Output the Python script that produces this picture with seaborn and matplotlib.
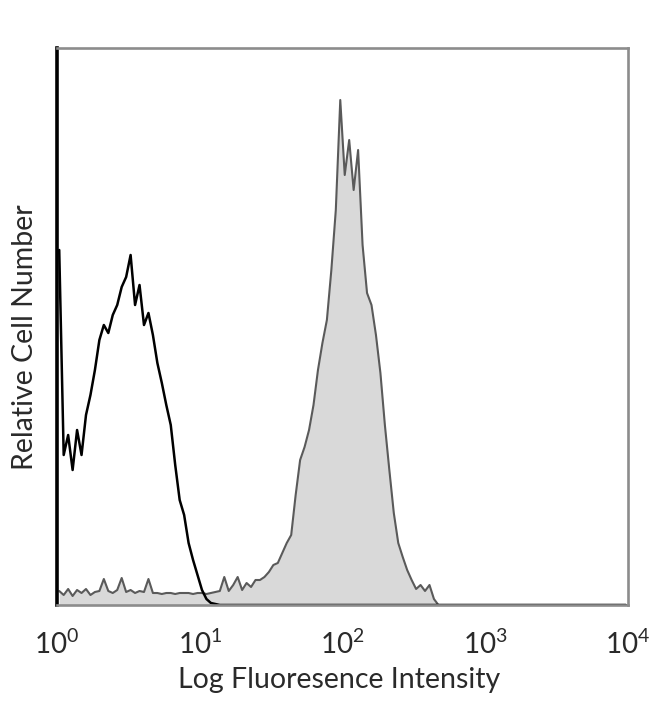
import numpy as np
import pandas as pd
import matplotlib
matplotlib.use("Agg")
import matplotlib.pyplot as plt
from matplotlib.ticker import NullLocator
import seaborn as sns

# ---- data (32 channels per decade, 4 decades) ----
channels_per_decade = 32
control_counts = [
    355, 150, 170, 135, 175, 150, 190, 210, 235, 265, 280, 272, 290, 300, 318, 328,
    350, 300, 320, 280, 292, 270, 242, 222, 200, 180, 140, 105, 90, 62, 45, 30,
    15, 6, 2, 1, 0, 0, 0, 0, 0, 0, 0, 0, 0, 0, 0, 0,
    0, 0, 0, 0, 0, 0, 0, 0, 0, 0, 0, 0, 0, 0, 0, 0,
    0, 0, 0, 0, 0, 0, 0, 0, 0, 0, 0, 0, 0, 0, 0, 0,
    0, 0, 0, 0, 0, 0, 0, 0, 0, 0, 0, 0, 0, 0, 0, 0,
    0, 0, 0, 0, 0, 0, 0, 0, 0, 0, 0, 0, 0, 0, 0, 0,
    0, 0, 0, 0, 0, 0, 0, 0, 0, 0, 0, 0, 0, 0, 0, 0,
]
stained_counts = [
    14, 10, 16, 9, 15, 12, 16, 10, 13, 14, 26, 14, 12, 15, 27, 13,
    15, 12, 14, 13, 26, 12, 12, 11, 12, 12, 11, 12, 12, 12, 11, 12,
    12, 11, 12, 13, 14, 28, 14, 20, 28, 15, 22, 18, 25, 25,
    28, 33, 40, 42, 52, 62, 70, 110, 145, 158, 175, 200, 235, 262,
    285, 335, 395, 505, 430, 465, 415, 455, 360, 312, 300, 270, 232, 180,
    135, 92, 62, 48, 35, 25, 16, 20, 14, 20, 6,
    0, 0, 0, 0, 0, 0, 0, 0, 0, 0, 0, 0, 0, 0, 0, 0,
    0, 0, 0, 0, 0, 0, 0, 0, 0, 0, 0, 0, 0, 0, 0, 0,
    0, 0, 0, 0, 0, 0, 0, 0, 0, 0, 0,
]
tick_values = [1, 10, 100, 1000, 10000]
tick_labels = [r"$\mathregular{10^{0}}$", r"$\mathregular{10^{1}}$",
               r"$\mathregular{10^{2}}$", r"$\mathregular{10^{3}}$",
               r"$\mathregular{10^{4}}$"]
x_label = "Log Fluoresence Intensity"
y_label = "Relative Cell Number"

sns.set_theme(style="white")
plt.rcParams["font.family"] = ["Lato", "DejaVu Sans"]

n = len(control_counts)
log_centers = (np.arange(n) + 0.5) / channels_per_decade
df = pd.DataFrame({
    "intensity": 10 ** log_centers,
    "control": control_counts,
    "stained": stained_counts,
})

fig = plt.figure(figsize=(6.5, 7.04), dpi=100)
ax = fig.add_axes([57 / 650, 1 - 605 / 704, (628 - 57) / 650, (605 - 48) / 704])
ax.set_xscale("log")

ax.fill_between(df["intensity"], df["stained"],
                color="#d9d9d9", linewidth=0, zorder=1)
sns.lineplot(data=df, x="intensity", y="stained",
             color="#5a5a5a", lw=1.5, ax=ax, zorder=2)
sns.lineplot(data=df, x="intensity", y="control",
             color="black", lw=1.8, ax=ax, zorder=2)

ax.set_xlim(1, 10000)
ax.set_ylim(0, 557)
ax.set_yticks([])
ax.set_xticks(tick_values, tick_labels)
ax.xaxis.set_minor_locator(NullLocator())
ax.tick_params(axis="x", length=0, pad=18, labelsize=20, colors="#2a2a2a")

for side in ["top", "right", "bottom"]:
    ax.spines[side].set_color("#8c8c8c")
    ax.spines[side].set_linewidth(1.9)
ax.spines["left"].set_color("black")
ax.spines["left"].set_linewidth(2.6)

ax.set_xlabel(x_label, fontsize=20.5, color="#2a2a2a")
ax.set_ylabel(y_label, fontsize=20.5, color="#2a2a2a")
ax.xaxis.set_label_coords(0.494, -0.111)
ax.yaxis.set_label_coords(-0.033, 0.48)

fig.savefig("out.png", dpi=100)
